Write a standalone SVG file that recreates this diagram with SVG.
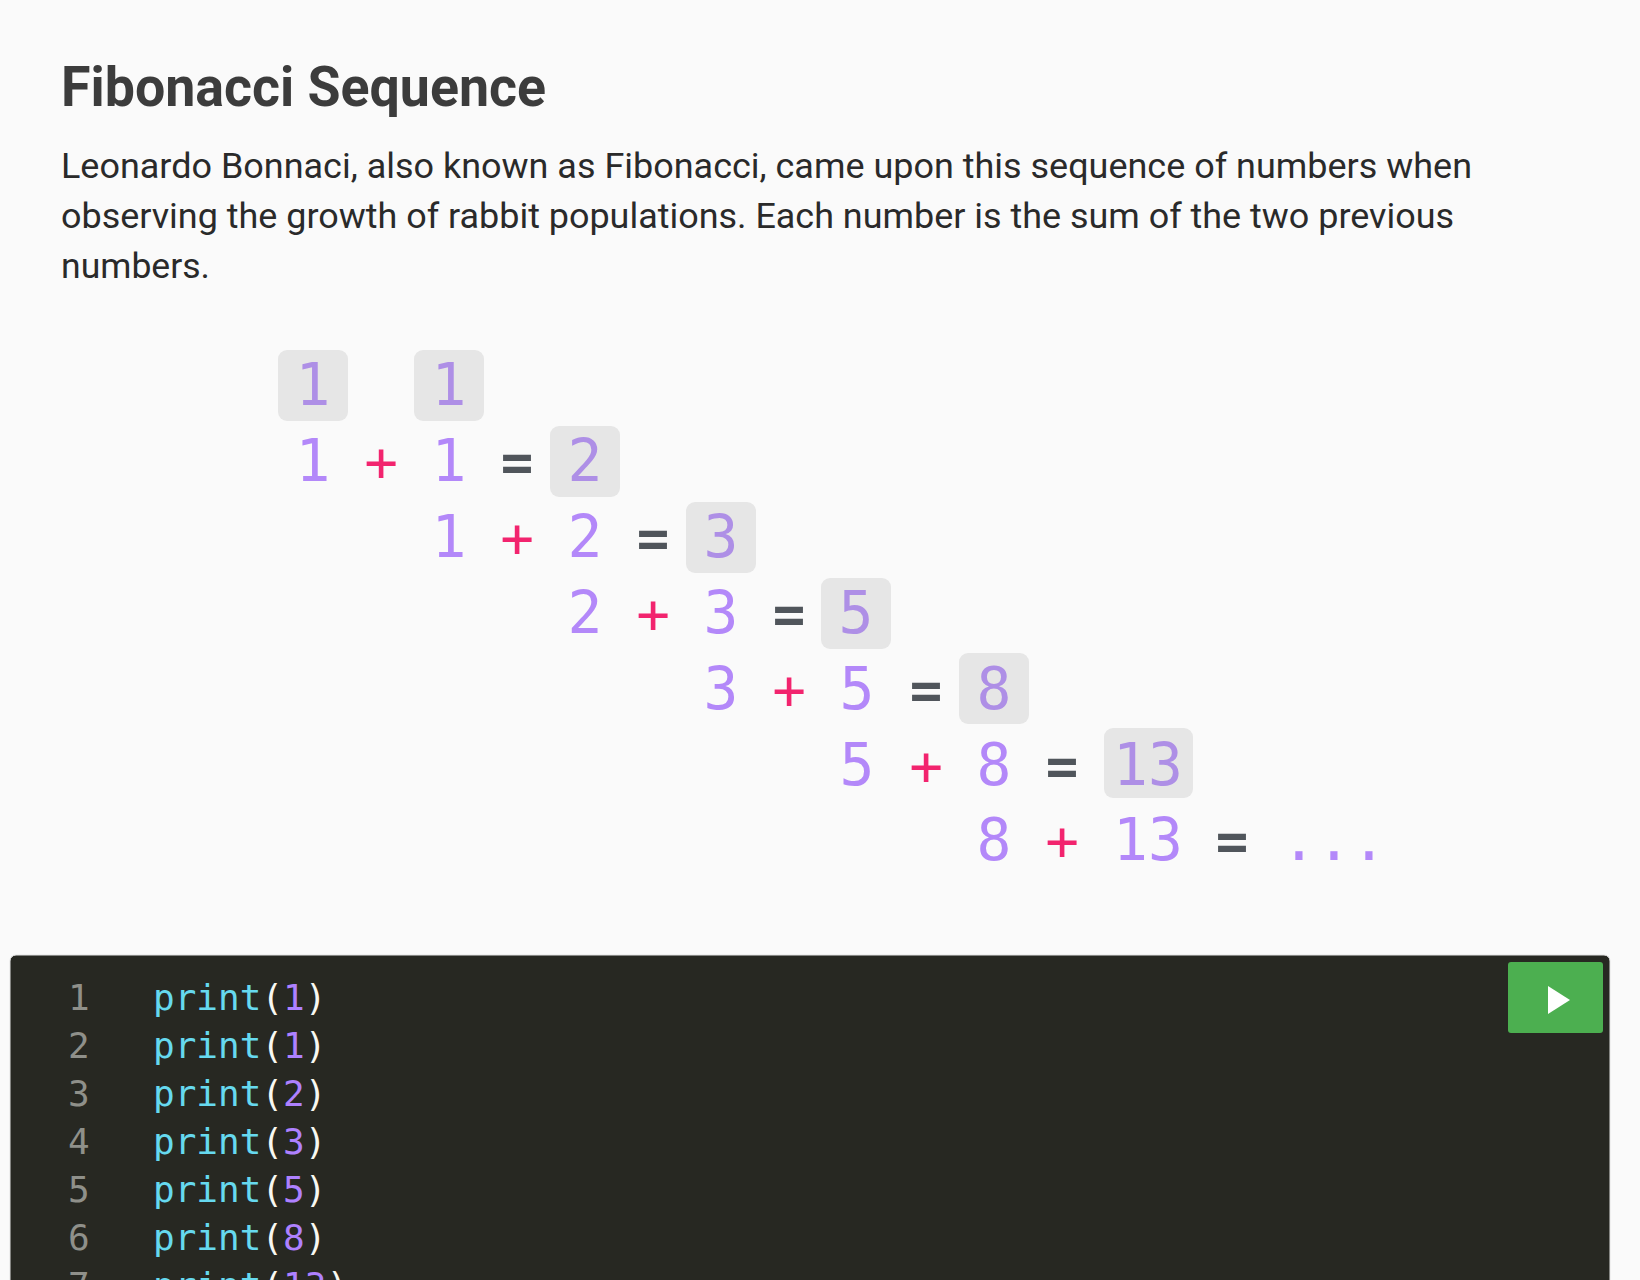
<svg xmlns="http://www.w3.org/2000/svg" width="1640" height="1280" viewBox="0 0 1640 1280">
<style>
.title{font-family:Roboto,"Liberation Sans",sans-serif;font-weight:700;font-size:56px;fill:#3c3c3c}
.para{font-family:Roboto,"Liberation Sans",sans-serif;font-size:35px;fill:#2a2a2a}
.num{font-family:"DejaVu Sans Mono","Liberation Mono",monospace;font-size:58px;fill:#b388f9;text-anchor:middle}
.tnum{font-family:"DejaVu Sans Mono","Liberation Mono",monospace;font-size:58px;fill:#ae8fe6;text-anchor:middle}
.plus{font-family:"DejaVu Sans Mono","Liberation Mono",monospace;font-size:56px;fill:#f2246e;text-anchor:middle}
.eq{font-family:"DejaVu Sans Mono","Liberation Mono",monospace;font-size:54px;font-weight:700;fill:#50555b;text-anchor:middle}
.tile{fill:#e6e6e6}
.code{font-family:"DejaVu Sans Mono","Liberation Mono",monospace;font-size:36px}
.ln{fill:#8f908a}
.fn{fill:#66d9ef}
.pn{fill:#f8f8f2}
.cn{fill:#ae81ff}
</style>
<rect x="0" y="0" width="1640" height="1280" fill="#fafafa"/>
<g id="heading">
<text class="title" x="61" y="106" textLength="485" lengthAdjust="spacingAndGlyphs">Fibonacci Sequence</text>
<text class="para" x="61" y="178" textLength="1411" lengthAdjust="spacingAndGlyphs">Leonardo Bonnaci, also known as Fibonacci, came upon this sequence of numbers when</text>
<text class="para" x="61" y="228" textLength="1393" lengthAdjust="spacingAndGlyphs">observing the growth of rabbit populations. Each number is the sum of the two previous</text>
<text class="para" x="61" y="278" textLength="149" lengthAdjust="spacingAndGlyphs">numbers.</text>
</g>
<g id="sequence">
<g id="row0">
<rect class="tile" x="278" y="350" width="70" height="71" rx="9"/>
<text class="tnum" x="313" y="405">1</text>
<rect class="tile" x="414" y="350" width="70" height="71" rx="9"/>
<text class="tnum" x="449" y="405">1</text>
</g>
<g id="row1">
<text class="num" x="313" y="481">1</text>
<text class="plus" x="381" y="481">+</text>
<text class="num" x="449" y="481">1</text>
<text class="eq" x="517" y="481">=</text>
<rect class="tile" x="550" y="426" width="70" height="71" rx="9"/>
<text class="tnum" x="585" y="481">2</text>
</g>
<g id="row2">
<text class="num" x="449" y="557">1</text>
<text class="plus" x="517" y="557">+</text>
<text class="num" x="585" y="557">2</text>
<text class="eq" x="653" y="557">=</text>
<rect class="tile" x="686" y="502" width="70" height="71" rx="9"/>
<text class="tnum" x="721" y="557">3</text>
</g>
<g id="row3">
<text class="num" x="585" y="633">2</text>
<text class="plus" x="653" y="633">+</text>
<text class="num" x="721" y="633">3</text>
<text class="eq" x="789" y="633">=</text>
<rect class="tile" x="821" y="578" width="70" height="71" rx="9"/>
<text class="tnum" x="856" y="633">5</text>
</g>
<g id="row4">
<text class="num" x="721" y="709">3</text>
<text class="plus" x="789" y="709">+</text>
<text class="num" x="857" y="709">5</text>
<text class="eq" x="926" y="709">=</text>
<rect class="tile" x="959" y="653" width="70" height="71" rx="9"/>
<text class="tnum" x="994" y="709">8</text>
</g>
<g id="row5">
<text class="num" x="857" y="785">5</text>
<text class="plus" x="926" y="785">+</text>
<text class="num" x="994" y="785">8</text>
<text class="eq" x="1062" y="785">=</text>
<rect class="tile" x="1104" y="728" width="89" height="70" rx="9"/>
<text class="tnum" x="1148" y="785">13</text>
</g>
<g id="row6">
<text class="num" x="994" y="860">8</text>
<text class="plus" x="1062" y="860">+</text>
<text class="num" x="1148" y="860">13</text>
<text class="eq" x="1232" y="860">=</text>
<text class="num" x="1334" y="860">...</text>
</g>
</g>
<g id="editor">
<rect x="10" y="955" width="1600" height="340" rx="6" fill="#272822" stroke="#e4e4e4" stroke-width="1"/>
<g id="run-button">
<rect x="1508" y="962" width="95" height="71" rx="3" fill="#4caf50"/>
<polygon points="1548,986 1570,1000 1548,1014" fill="#ffffff"/>
</g>
<g id="code" class="code">
<text x="68" y="1010"><tspan class="ln">1</tspan></text>
<text x="153" y="1010"><tspan class="fn">print</tspan><tspan class="pn">(</tspan><tspan class="cn">1</tspan><tspan class="pn">)</tspan></text>
<text x="68" y="1058"><tspan class="ln">2</tspan></text>
<text x="153" y="1058"><tspan class="fn">print</tspan><tspan class="pn">(</tspan><tspan class="cn">1</tspan><tspan class="pn">)</tspan></text>
<text x="68" y="1106"><tspan class="ln">3</tspan></text>
<text x="153" y="1106"><tspan class="fn">print</tspan><tspan class="pn">(</tspan><tspan class="cn">2</tspan><tspan class="pn">)</tspan></text>
<text x="68" y="1154"><tspan class="ln">4</tspan></text>
<text x="153" y="1154"><tspan class="fn">print</tspan><tspan class="pn">(</tspan><tspan class="cn">3</tspan><tspan class="pn">)</tspan></text>
<text x="68" y="1202"><tspan class="ln">5</tspan></text>
<text x="153" y="1202"><tspan class="fn">print</tspan><tspan class="pn">(</tspan><tspan class="cn">5</tspan><tspan class="pn">)</tspan></text>
<text x="68" y="1250"><tspan class="ln">6</tspan></text>
<text x="153" y="1250"><tspan class="fn">print</tspan><tspan class="pn">(</tspan><tspan class="cn">8</tspan><tspan class="pn">)</tspan></text>
<text x="68" y="1298"><tspan class="ln">7</tspan></text>
<text x="153" y="1298"><tspan class="fn">print</tspan><tspan class="pn">(</tspan><tspan class="cn">13</tspan><tspan class="pn">)</tspan></text>
</g>
</g>
</svg>
